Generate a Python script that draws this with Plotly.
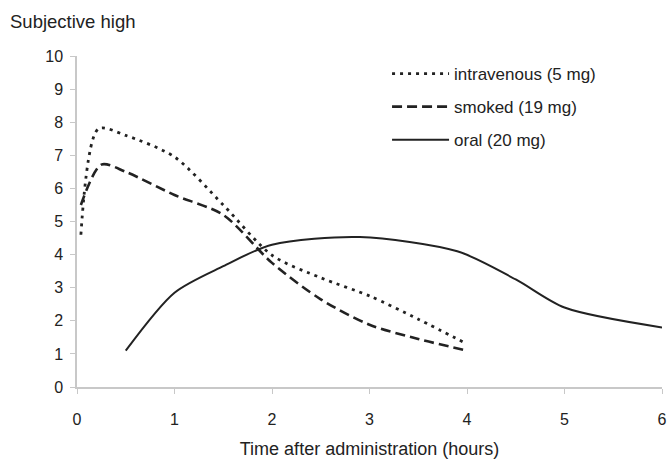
import plotly.graph_objects as go

# Data
iv_x = [0.04, 0.22, 0.5, 1.0, 1.5, 2.0, 2.5, 3.0, 3.5, 4.0]
iv_y = [4.6, 7.8, 7.6, 6.95, 5.5, 3.98, 3.3, 2.75, 2.05, 1.3]

smoked_x = [0.04, 0.25, 0.5, 1.0, 1.5, 2.0, 2.5, 3.0, 3.5, 4.0]
smoked_y = [5.5, 6.72, 6.5, 5.8, 5.2, 3.75, 2.65, 1.88, 1.45, 1.1]

oral_x = [0.5, 1.0, 1.5, 2.0, 2.9, 3.9, 4.5, 5.0, 6.0]
oral_y = [1.1, 2.85, 3.65, 4.3, 4.53, 4.1, 3.25, 2.4, 1.8]

x_ticks = [0, 1, 2, 3, 4, 5, 6]
y_ticks = list(range(0, 11))

names = ["intravenous (5 mg)", "smoked (19 mg)", "oral (20 mg)"]

fig = go.Figure()
fig.add_trace(go.Scatter(x=iv_x, y=iv_y, mode="lines", name=names[0], legendgroup="a",
                         line=dict(color="#222", width=2.8, dash="3px,5px", shape="spline", smoothing=0.8)))
fig.add_trace(go.Scatter(x=smoked_x, y=smoked_y, mode="lines", name=names[1], legendgroup="b",
                         line=dict(color="#222", width=2.6, dash="10px,5px", shape="spline", smoothing=0.8)))
fig.add_trace(go.Scatter(x=oral_x, y=oral_y, mode="lines", name=names[2], legendgroup="c",
                         line=dict(color="#222", width=2, shape="spline", smoothing=0.8)))

fig.update_layout(
    width=667, height=459,
    margin=dict(l=77, r=5, t=56, b=72),
    paper_bgcolor="white", plot_bgcolor="white",
    font=dict(family="Liberation Sans, Arial, sans-serif", size=16, color="#222"),
    showlegend=True,
    legend=dict(x=0.53, y=1.0, xanchor="left", yanchor="top",
                bgcolor="rgba(0,0,0,0)", tracegroupgap=8, traceorder="grouped",
                itemwidth=57, font=dict(size=17)),
    xaxis=dict(range=[0, 6], tickvals=x_ticks, showgrid=False, zeroline=False,
               showline=True, linecolor="#c8c8c8", linewidth=1.5, automargin=False,
               ticks="outside", ticklen=5, tickcolor="#c8c8c8", tickfont=dict(size=16),
               ticklabelstandoff=12,
               title=dict(text="Time after administration (hours)", standoff=18,
                          font=dict(size=18))),
    yaxis=dict(range=[0, 10], tickvals=y_ticks, showgrid=False, zeroline=False,
               showline=True, linecolor="#c8c8c8", linewidth=1.5, automargin=False,
               ticks="outside", ticklen=5, tickcolor="#c8c8c8", tickfont=dict(size=16),
               ticklabelstandoff=4),
    annotations=[dict(text="Subjective high", xref="paper", yref="paper",
                      x=-0.118, y=1.066, xanchor="left", yanchor="bottom",
                      showarrow=False, font=dict(size=18.5))],
)

fig.write_html("out.html", config={"displayModeBar": False},
               post_script="document.body.style.margin='0';document.body.style.overflow='hidden';")
